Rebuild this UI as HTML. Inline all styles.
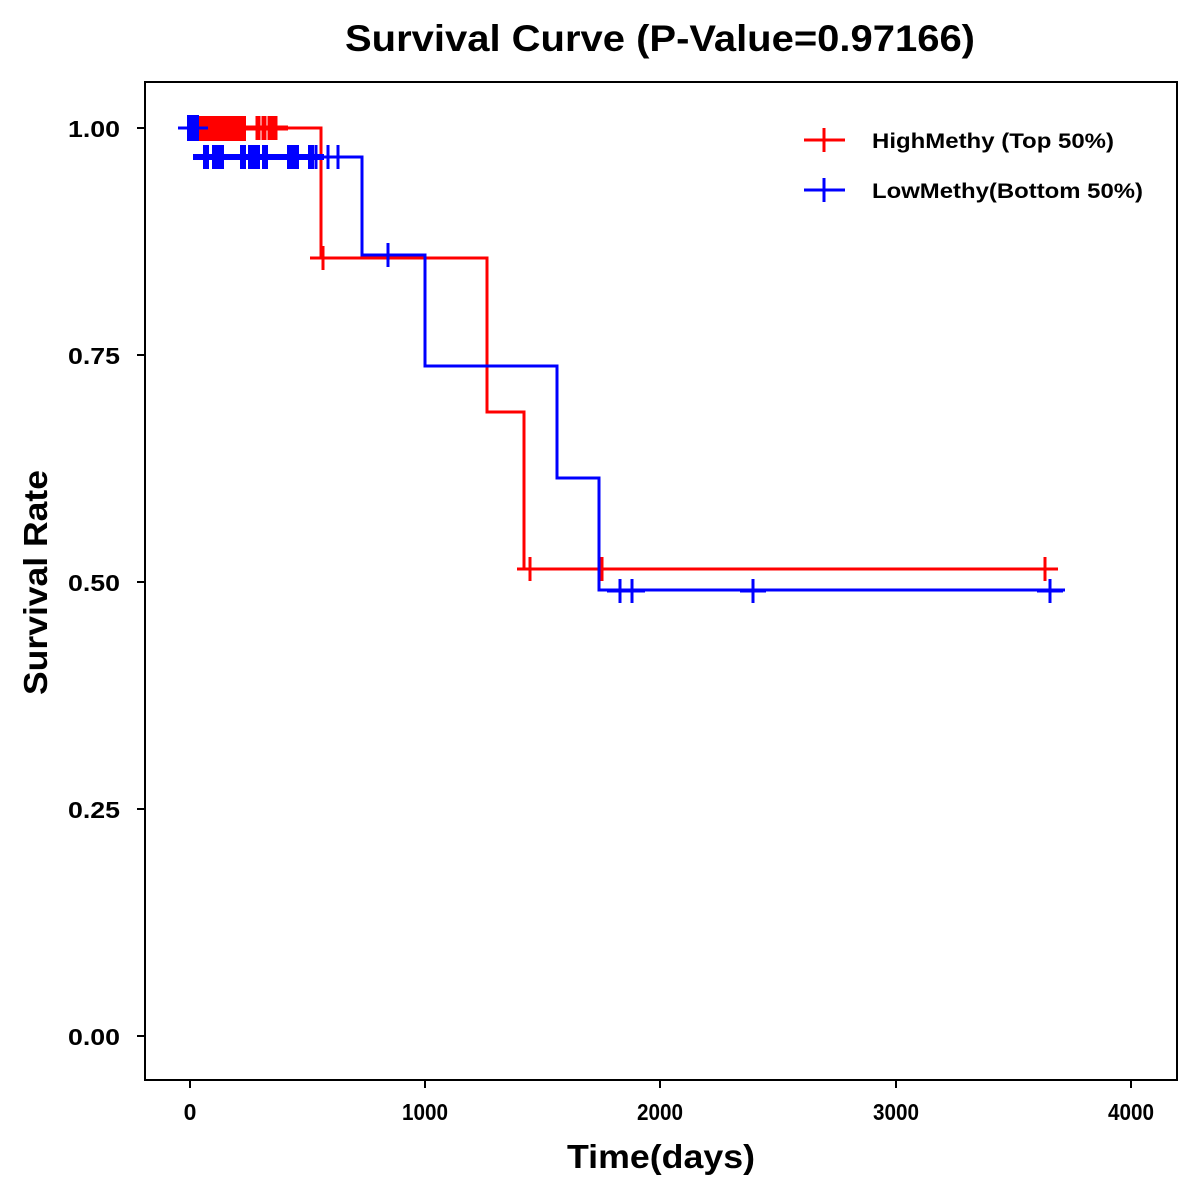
<!DOCTYPE html>
<html><head><style>body{margin:0;background:#fff}svg{display:block}</style></head><body>
<svg width="1200" height="1200" viewBox="0 0 1200 1200" xmlns="http://www.w3.org/2000/svg" font-family="Liberation Sans, sans-serif" font-weight="bold">
<defs>
<path id="cr" d="M-13,0H13M0,-12V12" stroke="red" stroke-width="3" fill="none"/>
<path id="cb" d="M-13,0H13M0,-12V12" stroke="blue" stroke-width="3" fill="none"/>
<path id="cbw" d="M-13,0H13M0,-12V12" stroke="blue" stroke-width="6" fill="none"/>
<path id="crw" d="M-13,0H13M0,-12V12" stroke="red" stroke-width="5" fill="none"/>
</defs>
<text x="345" y="51" font-size="37" textLength="630" lengthAdjust="spacingAndGlyphs">Survival Curve (P-Value=0.97166)</text>
<rect x="145" y="82" width="1032" height="998" fill="none" stroke="#000" stroke-width="2"/>
<g stroke="#000" stroke-width="2">
<path d="M137,128H145M137,355H145M137,582H145M137,809H145M137,1036H145"/>
<path d="M190,1080V1088M425,1080V1088M660,1080V1088M896,1080V1088M1131,1080V1088"/>
</g>
<g font-size="23">
<text x="68" y="137" textLength="52" lengthAdjust="spacingAndGlyphs">1.00</text>
<text x="68" y="364" textLength="52" lengthAdjust="spacingAndGlyphs">0.75</text>
<text x="68" y="591" textLength="52" lengthAdjust="spacingAndGlyphs">0.50</text>
<text x="68" y="818" textLength="52" lengthAdjust="spacingAndGlyphs">0.25</text>
<text x="68" y="1045" textLength="52" lengthAdjust="spacingAndGlyphs">0.00</text>
</g>
<g font-size="23" text-anchor="middle">
<text x="190" y="1120">0</text><text x="425" y="1120" textLength="46" lengthAdjust="spacingAndGlyphs">1000</text><text x="660" y="1120" textLength="46" lengthAdjust="spacingAndGlyphs">2000</text><text x="896" y="1120" textLength="46" lengthAdjust="spacingAndGlyphs">3000</text><text x="1131" y="1120" textLength="46" lengthAdjust="spacingAndGlyphs">4000</text>
</g>
<text x="567" y="1168" font-size="33" textLength="188" lengthAdjust="spacingAndGlyphs">Time(days)</text>
<text transform="translate(47,695) rotate(-90)" font-size="33" textLength="225" lengthAdjust="spacingAndGlyphs">Survival Rate</text>
<!-- red curve -->
<path d="M199,128H287M287,128H321V258H487V412H524V569H1055" stroke="red" stroke-width="3" fill="none"/>
<rect x="199" y="116" width="47" height="25" fill="red"/>
<g>
<use href="#crw" x="258" y="128"/><use href="#crw" x="264" y="128"/><use href="#crw" x="270" y="128"/><use href="#crw" x="275" y="128"/>
<use href="#cr" x="323" y="258"/><use href="#cr" x="530" y="569"/><use href="#cr" x="602" y="569"/><use href="#cr" x="1045" y="569"/>
</g>
<!-- blue curve -->
<path d="M178,128H208M193,157H362V255H425V366H557V478H599V590H1065" stroke="blue" stroke-width="3" fill="none"/>
<rect x="187" y="115" width="12" height="26" fill="blue"/>
<g>
<use href="#cbw" x="206" y="157"/><use href="#cbw" x="215" y="157"/><use href="#cbw" x="221" y="157"/>
<use href="#cbw" x="243" y="157"/><use href="#cbw" x="251" y="157"/><use href="#cbw" x="257" y="157"/><use href="#cbw" x="265" y="157"/>
<use href="#cbw" x="291" y="157"/><use href="#cbw" x="296" y="157"/><use href="#cb" x="316" y="157"/><use href="#cb" x="328" y="157"/><use href="#cb" x="338" y="157"/>
<use href="#cbw" x="290" y="157"/><use href="#cbw" x="311" y="157"/>
<use href="#cb" x="388" y="255"/><use href="#cb" x="620" y="591"/><use href="#cb" x="632" y="591"/><use href="#cb" x="753" y="591"/><use href="#cb" x="1050" y="591"/>
</g>
<!-- legend -->
<path d="M804,140H845M824,128V152" stroke="red" stroke-width="3"/>
<path d="M804,190H845M824,178V202" stroke="blue" stroke-width="3"/>
<text x="872" y="148" font-size="21" textLength="242" lengthAdjust="spacingAndGlyphs">HighMethy (Top 50%)</text>
<text x="872" y="198" font-size="21" textLength="271" lengthAdjust="spacingAndGlyphs">LowMethy(Bottom 50%)</text>
</svg>
</body></html>
